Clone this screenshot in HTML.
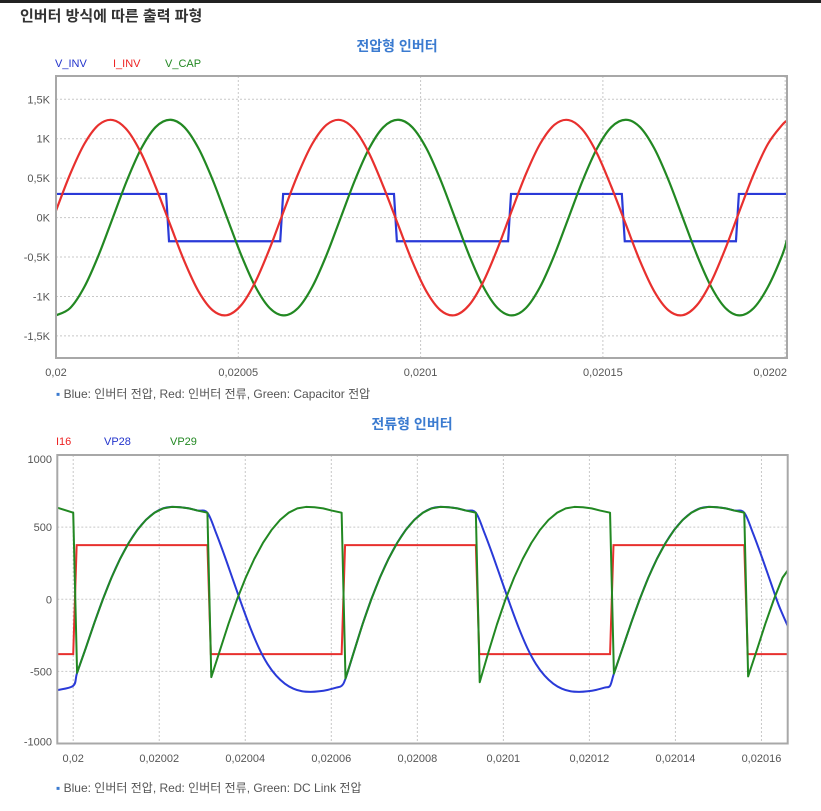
<!DOCTYPE html>
<html><head><meta charset="utf-8">
<style>
html,body{margin:0;padding:0;background:#fff;}
body{width:821px;height:806px;overflow:hidden;font-family:"Liberation Sans","Noto Sans CJK KR",sans-serif;}
svg text{font-family:"Liberation Sans","Noto Sans CJK KR",sans-serif;}
</style></head>
<body>
<svg id="svg" width="821" height="806" viewBox="0 0 821 806" xmlns="http://www.w3.org/2000/svg">
<rect x="0" y="0" width="821" height="3" fill="#222"/>
<text x="20" y="21" font-size="15" font-weight="bold" fill="#333">인버터 방식에 따른 출력 파형</text>
<text x="397" y="51" font-size="14" font-weight="bold" fill="#3b7bd0" text-anchor="middle">전압형 인버터</text>
<text x="55" y="67" font-size="11" fill="#2233cc">V_INV</text>
<text x="113" y="67" font-size="11" fill="#e22">I_INV</text>
<text x="165" y="67" font-size="11" fill="#228822">V_CAP</text>
<g id="c1grid"></g>
<g id="c1ax"></g>
<g id="c1lines"></g>
<rect x="56" y="76" width="731" height="282" fill="none" stroke="#a8a8a8" stroke-width="2"/>
<text x="56" y="398" font-size="12" fill="#555"><tspan fill="#3b7bd0">▪</tspan> Blue: 인버터 전압, Red: 인버터 전류, Green: Capacitor 전압</text>

<text x="412" y="429" font-size="14" font-weight="bold" fill="#3b7bd0" text-anchor="middle">전류형 인버터</text>
<text x="56" y="445" font-size="11" fill="#e22">I16</text>
<text x="104" y="445" font-size="11" fill="#2233cc">VP28</text>
<text x="170" y="445" font-size="11" fill="#228822">VP29</text>
<g id="c2grid"></g>
<g id="c2ax"></g>
<g id="c2lines"></g>
<rect x="57.3" y="455" width="730.4" height="288.5" fill="none" stroke="#a8a8a8" stroke-width="2"/>
<text x="56" y="792" font-size="12" fill="#555"><tspan fill="#3b7bd0">▪</tspan> Blue: 인버터 전압, Red: 인버터 전류, Green: DC Link 전압</text>
</svg>
<script>
// ---- Chart 1 data (time in microseconds after 0.02 s) ----
const c1Time=[0,3.9,7.8,11.7,15.6,19.5,23.4,27.3,31.3,35.2,39.1,43,46.9,50.8,54.7,58.6,62.5,66.4,70.3,74.2,78.1,82,85.9,89.8,93.8,97.7,101.6,105.5,109.4,113.3,117.2,121.1,125,128.9,132.8,136.7,140.6,144.5,148.4,152.3,156.3,160.2,164.1,168,171.9,175.8,179.7,183.6,187.5,191.4,195.3,199.2,200.5];
const c1Red=[87,553,936,1176,1237,1110,813,393,-87,-553,-936,-1176,-1237,-1110,-813,-393,
87,553,936,1176,1237,1110,813,393,-87,-553,-936,-1176,-1237,-1110,-813,-393,
87,553,936,1176,1237,1110,813,393,-87,-553,-936,-1176,-1237,-1110,-813,-393,
87,553,936,1176,1225];
const c1Green=[-1240,-1146,-877,-475,0,475,877,1146,1240,1146,877,475,0,-475,-877,-1146,
-1240,-1146,-877,-475,0,475,877,1146,1240,1146,877,475,0,-475,-877,-1146,
-1240,-1146,-877,-475,0,475,877,1146,1240,1146,877,475,0,-475,-877,-1146,
-1240,-1146,-877,-475,-279];
const c1BlueTime=[0,30.2,31.0,61.5,62.3,92.7,93.5,124.0,124.8,155.2,156.0,186.5,187.3,200.5];
const c1Blue=[300,300,-300,-300,300,300,-300,-300,300,300,-300,-300,300,300];
const c1YTicks=[1500,1000,500,0,-500,-1000,-1500];
const c1YLabels=["1,5K","1K","0,5K","0K","-0,5K","-1K","-1,5K"];
const c1XTicks=[0,50,100,150,200];
const c1XLabels=["0,02","0,02005","0,0201","0,02015","0,0202"];

// ---- Chart 2 data ----
const c2RedTime=[-3.7,0,0.8,31.2,32.0,62.4,63.2,93.6,94.4,124.8,125.6,156,156.8,166.1];
const c2Red=[-380,-380,375,375,-380,-380,375,375,-380,-380,375,375,-380,-380];
const c2GreenTime=[-3.7,0,
0.9,2.9,4.9,6.9,8.9,10.9,12.9,14.9,16.9,18.9,20.9,22.9,24.9,26.9,28.9,31.2,
32.1,34.1,36.1,38.1,40.1,42.1,44.1,46.1,48.1,50.1,52.1,54.1,56.1,58.1,60.1,62.4,
63.3,65.3,67.3,69.3,71.3,73.3,75.3,77.3,79.3,81.3,83.3,85.3,87.3,89.3,91.3,93.6,
94.5,96.5,98.5,100.5,102.5,104.5,106.5,108.5,110.5,112.5,114.5,116.5,118.5,120.5,122.5,124.8,
125.7,127.7,129.7,131.7,133.7,135.7,137.7,139.7,141.7,143.7,145.7,147.7,149.7,151.7,153.7,156.0,
156.9,158.9,160.9,162.9,164.9,166.1];
const c2Green=[635,600,
-510,-340,-165,0,150,280,390,480,550,600,630,640,638,630,615,600,
-540,-355,-170,0,150,280,390,480,550,600,630,640,638,630,615,600,
-550,-360,-170,0,150,280,390,480,550,600,630,640,638,630,615,600,
-575,-370,-175,0,150,280,390,480,550,600,630,640,638,630,615,600,
-515,-340,-165,0,150,280,390,480,550,600,630,640,638,630,615,600,
-535,-355,-170,0,150,200];
const c2BlueTime=[-3.7,0,
0.9,2.9,4.9,6.9,8.9,10.9,12.9,14.9,16.9,18.9,20.9,22.9,24.9,26.9,28.9,31.2,
33.2,35.2,37.2,39.2,41.2,43.2,45.2,47.2,49.2,51.2,53.2,55.2,57.2,59.2,61.2,62.4,
63.3,65.3,67.3,69.3,71.3,73.3,75.3,77.3,79.3,81.3,83.3,85.3,87.3,89.3,91.3,93.6,
95.6,97.6,99.6,101.6,103.6,105.6,107.6,109.6,111.6,113.6,115.6,117.6,119.6,121.6,123.6,124.8,
125.7,127.7,129.7,131.7,133.7,135.7,137.7,139.7,141.7,143.7,145.7,147.7,149.7,151.7,153.7,156.0,
158,160,162,164,166.1];
const c2Blue=[-630,-600,
-510,-340,-165,0,150,280,390,480,550,600,630,640,638,630,615,600,
460,300,130,-40,-200,-340,-450,-530,-585,-620,-638,-642,-638,-628,-612,-600,
-550,-360,-170,0,150,280,390,480,550,600,630,640,638,630,615,600,
460,300,130,-40,-200,-340,-450,-530,-585,-620,-638,-642,-638,-628,-612,-600,
-515,-340,-165,0,150,280,390,480,550,600,630,640,638,630,615,600,
460,300,130,-40,-185];
const c2YTicks=[1000,500,0,-500,-1000];
const c2YLabels=["1000","500","0","-500","-1000"];
const c2XTicks=[0,20,40,60,80,100,120,140,160];
const c2XLabels=["0,02","0,02002","0,02004","0,02006","0,02008","0,0201","0,02012","0,02014","0,02016"];

const NS="http://www.w3.org/2000/svg";
function mk(tag,attrs,parent){const e=document.createElementNS(NS,tag);for(const k in attrs)e.setAttribute(k,attrs[k]);parent.appendChild(e);return e;}
function lin(d0,d1,r0,r1){return v=>r0+(v-d0)*(r1-r0)/(d1-d0);}

const x1=lin(0,200.5,56,787), y1=lin(-1780,1795,358,76);
const x2=lin(-3.7,166.1,57.3,787.7), y2=lin(-1000,1000,743.5,455);

function linePath(T,V,xs,ys){return T.map((t,i)=>(i?'L':'M')+xs(t).toFixed(2)+' '+ys(V[i]).toFixed(2)).join(' ');}
function smoothPath(T,V,xs,ys){
  const P=T.map((t,i)=>[xs(t),ys(V[i])]);
  let d='M'+P[0][0].toFixed(2)+' '+P[0][1].toFixed(2);
  for(let i=0;i<P.length-1;i++){
    const p0=P[Math.max(0,i-1)],p1=P[i],p2=P[i+1],p3=P[Math.min(P.length-1,i+2)];
    const c1=[p1[0]+(p2[0]-p0[0])/6,p1[1]+(p2[1]-p0[1])/6];
    const c2=[p2[0]-(p3[0]-p1[0])/6,p2[1]-(p3[1]-p1[1])/6];
    d+=' C'+c1[0].toFixed(2)+' '+c1[1].toFixed(2)+' '+c2[0].toFixed(2)+' '+c2[1].toFixed(2)+' '+p2[0].toFixed(2)+' '+p2[1].toFixed(2);
  }
  return d;
}

const g1=document.getElementById('c1grid'), a1=document.getElementById('c1ax'), l1=document.getElementById('c1lines');
c1YTicks.forEach((v,i)=>{
  const gl=mk('line',{x1:56,x2:787,y1:y1(v),y2:y1(v),stroke:'#c8c8c8','stroke-dasharray':'2,2','stroke-width':1},g1);
  
  
  const t=mk('text',{x:50,y:y1(v)+4,'font-size':11,fill:'#555','text-anchor':'end'},a1);
  t.textContent=c1YLabels[i];
  
  
});
c1XTicks.forEach((v,i)=>{
  if(i>0){
    const gl=mk('line',{x1:x1(v),x2:x1(v),y1:76,y2:358,stroke:'#c8c8c8','stroke-dasharray':'2,2','stroke-width':1},g1);
    
    
  }
  const last=i===c1XTicks.length-1;
  const t=mk('text',{x:last?787:x1(v),y:376,'font-size':11,fill:'#555','text-anchor':last?'end':'middle'},a1);
  t.textContent=c1XLabels[i];
  
  
});
const c1b=mk('path',{d:linePath(c1BlueTime,c1Blue,x1,y1),fill:'none',stroke:'#2a3ad8','stroke-width':2.2},l1);


const c1g=mk('path',{d:smoothPath(c1Time,c1Green,x1,y1),fill:'none',stroke:'#228822','stroke-width':2.2},l1);


const c1r=mk('path',{d:smoothPath(c1Time,c1Red,x1,y1),fill:'none',stroke:'#e8302e','stroke-width':2.2},l1);



const g2=document.getElementById('c2grid'), a2=document.getElementById('c2ax'), l2=document.getElementById('c2lines');
c2YTicks.forEach((v,i)=>{
  if(Math.abs(v)<1000){
    const gl=mk('line',{x1:57.3,x2:787.7,y1:y2(v),y2:y2(v),stroke:'#c8c8c8','stroke-dasharray':'2,2','stroke-width':1},g2);
    
    
  }
  const t=mk('text',{x:52,y:y2(v)+(v===1000?8:v===-1000?2:4),'font-size':11,fill:'#555','text-anchor':'end'},a2);
  t.textContent=c2YLabels[i];
  
  
});
c2XTicks.forEach((v,i)=>{
  const gl=mk('line',{x1:x2(v),x2:x2(v),y1:455,y2:743.5,stroke:'#c8c8c8','stroke-dasharray':'2,2','stroke-width':1},g2);
  
  
  const t=mk('text',{x:x2(v),y:762,'font-size':11,fill:'#555','text-anchor':'middle'},a2);
  t.textContent=c2XLabels[i];
  
  
});
const c2r=mk('path',{d:linePath(c2RedTime,c2Red,x2,y2),fill:'none',stroke:'#e8302e','stroke-width':2},l2);


const c2b=mk('path',{d:smoothPath(c2BlueTime,c2Blue,x2,y2),fill:'none',stroke:'#2a3ad8','stroke-width':2},l2);


const c2g=mk('path',{d:linePath(c2GreenTime,c2Green,x2,y2),fill:'none',stroke:'#228822','stroke-width':2,'stroke-linejoin':'round'},l2);


</script>
</body></html>
